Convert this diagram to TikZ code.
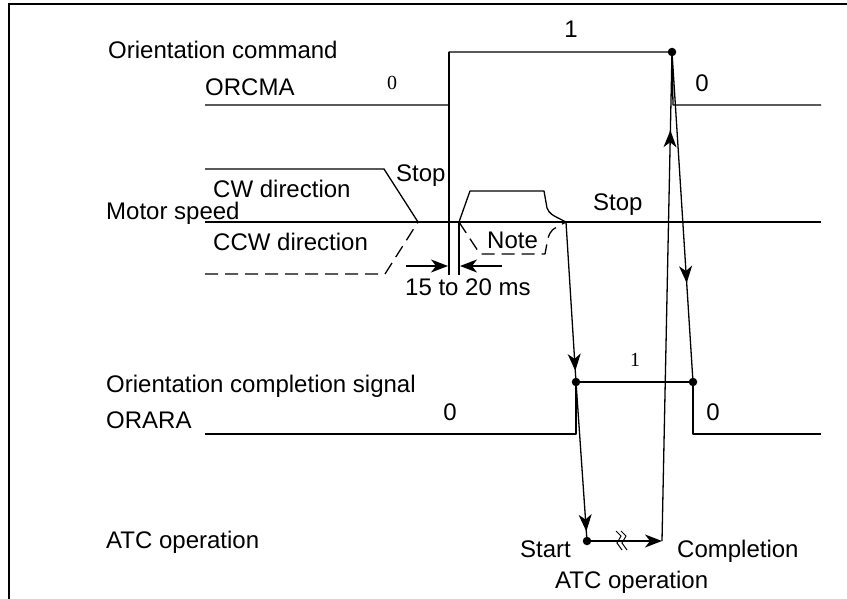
\documentclass[tikz,border=0pt]{standalone}
\usepackage{fontspec}
\setmainfont{Liberation Sans}
\newfontfamily\lvlfont{Liberation Serif}
\usetikzlibrary{arrows.meta,decorations.markings}

\tikzset{
  lbl/.style={font=\fontsize{24}{28}\selectfont, inner sep=0pt, anchor=base west},
  lvl/.style={font=\fontsize{24}{28}\selectfont, inner sep=0pt, anchor=base},
  lvlserif/.style={font=\lvlfont\fontsize{20}{24}\selectfont, inner sep=0pt, anchor=base},
  sig/.style={line width=1.3pt, line join=round},
  dot/.style={circle, fill=black, inner sep=0pt, minimum size=8.5pt},
  tip/.style={-{Stealth[length=17pt,width=13pt,inset=5pt]}},
  midtip/.style={postaction={decorate}, decoration={markings,
    mark=at position #1 with {\arrow{Stealth[length=17pt,width=13pt,inset=5pt]}}}},
}

\begin{document}
\begin{tikzpicture}[x=1pt, y=-1pt]
\useasboundingbox (0,0) rectangle (847,599);
\draw[line width=1.5pt] (9,599) -- (9,4) -- (847,4);

% labels on the left
\node[lbl] (cmd) at (108,59) {Orientation command};
\node[lbl] (orcma) at (205,96) {ORCMA};
\node[lbl] (motor) at (106,220) {Motor speed};
\node[lbl] (cw) at (213,198) {CW direction};
\node[lbl] (ccw) at (213,251) {CCW direction};
\node[lbl] (ocs) at (106,392) {Orientation completion signal};
\node[lbl] (orara) at (106,428) {ORARA};
\node[lbl] (atc) at (106,548) {ATC operation};

% labels in the chart
\node[lbl] (stopA) at (396,182) {Stop};
\node[lbl] (stopB) at (593,211) {Stop};
\node[lbl] (note) at (487,249) {Note};
\node[lbl] (ms) at (405,295) {15 to 20 ms};
\node[lbl] (start) at (520,557) {Start};
\node[lbl] (compl) at (677,557) {Completion};
\node[lbl] (atcop) at (555,588) {ATC operation};
\node[lvlserif] (zA) at (392,90) {0};
\node[lvl] (oneA) at (571,38) {1};
\node[lvl] (zB) at (702,92) {0};
\node[lvl] (zC) at (450,420) {0};
\node[lvlserif] (oneB) at (635,366) {1};
\node[lvl] (zD) at (713,420) {0};

% ORCMA
\coordinate (c0) at (205,105);
\coordinate (c1) at (449,105);
\coordinate (c2) at (449,52);
\node[dot] (cup) at (672,52) {};
\coordinate (c3) at (673,105);
\coordinate (c4) at (821,105);
\coordinate (c5) at (449,275);
\draw[sig] (c0) -- (c1) -- (c2) -- (cup.center) -- (c3) -- (c4);
\draw[sig] (c2) -- (c5);

% motor speed
\coordinate (m0) at (205,222);
\coordinate (m1) at (821,222);
\coordinate (cwA) at (205,169);
\coordinate (cwB) at (384,169);
\coordinate (halt) at (418,222);
\coordinate (ccwA) at (205,274);
\coordinate (ccwB) at (385,274);
\draw[sig] (m0) -- (m1);
\draw[sig] (cwA) -- (cwB) -- (halt);
\draw[sig, dash pattern=on 13pt off 7pt] (ccwA) -- (ccwB) -- (halt);
\coordinate (go) at (459,222);
\coordinate (go2) at (459,275);
\draw[sig] (go) -- (go2);
\coordinate (p1) at (470,191);
\coordinate (p2) at (544,191);
\coordinate (p3) at (547,208);
\coordinate (rest) at (566,222);
\draw[sig] (go) -- (p1) -- (p2) -- (p3) .. controls (550,214) .. (rest);
\coordinate (q1) at (480,254);
\coordinate (q2) at (545,254);
\coordinate (q3) at (548,238);
\draw[sig, dash pattern=on 13pt off 7pt] (go) -- (q1) -- (q2) -- (q3) .. controls (551,230) .. (rest);

% 15 to 20 ms
\coordinate (dA) at (406,266);
\coordinate (dB) at (448,266);
\coordinate (dC) at (502,266);
\coordinate (dD) at (460,266);
\draw[sig, tip] (dA) -- (dB);
\draw[sig, tip] (dC) -- (dD);

% ORARA
\coordinate (r0) at (205,434);
\coordinate (r1) at (576,434);
\node[dot] (rup) at (576,382) {};
\node[dot] (rdn) at (693,382) {};
\coordinate (r2) at (693,434);
\coordinate (r3) at (821,434);
\draw[sig] (r0) -- (r1) -- (rup.center) -- (rdn.center) -- (r2) -- (r3);

% ATC operation
\node[dot] (atcA) at (587,541) {};
\coordinate (atcB) at (662,541);
\draw[sig, tip] (atcA.center) -- (atcB);
\draw[line width=1pt] (616,531) -- (621,536) -- (617,543) -- (622,550)
                     (621,531) -- (626,536) -- (622,543) -- (627,550);

% sequence
\draw[sig, midtip=0.93] (rest) -- (rup.center);
\draw[sig, midtip=0.94] (rup.center) -- (atcA.center);
\draw[sig, midtip=0.84] (atcB) -- (cup.center);
\draw[sig, midtip=0.70] (cup.center) -- (rdn.center);
\end{tikzpicture}
\end{document}
